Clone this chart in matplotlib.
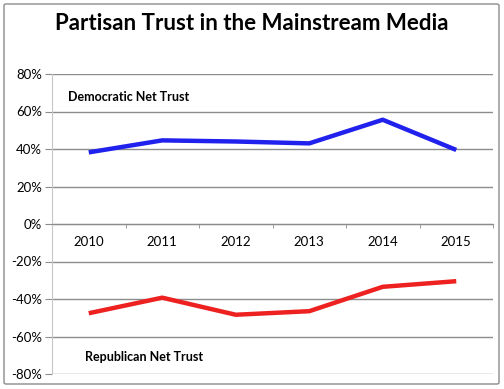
import matplotlib.pyplot as plt
from matplotlib.patches import FancyBboxPatch
from matplotlib.ticker import FuncFormatter

years = ["2010", "2011", "2012", "2013", "2014", "2015"]
dem_trust = [38.2, 44.6, 44.0, 43.0, 55.6, 39.5]
rep_trust = [-47.6, -39.3, -48.4, -46.5, -33.5, -30.5]

plt.rcParams['font.family'] = ['Lato', 'DejaVu Sans']

fig = plt.figure(figsize=(5.04, 3.89), dpi=100)
ax = fig.add_axes([52 / 504, 15 / 389, 441 / 504, 300 / 389])

x = list(range(len(years)))
ax.plot(x, dem_trust, color='#2121ee', lw=3.2, solid_capstyle='butt')
ax.plot(x, rep_trust, color='#ee2121', lw=3.2, solid_capstyle='butt')

ax.set_xlim(-0.5, len(years) - 0.5)
ax.set_ylim(-80, 80)
ax.set_yticks(range(-80, 81, 20))
ax.yaxis.set_major_formatter(FuncFormatter(lambda v, p: f"{int(v)}%"))
ax.grid(axis='y', color='#8c8c8c', lw=1)
ax.set_axisbelow(True)

# category axis sits on the zero line
ax.spines['bottom'].set_position(('data', 0))
ax.spines['bottom'].set_color('#8c8c8c')
ax.spines['left'].set_color('#c8c8c8')
ax.spines['top'].set_visible(False)
ax.spines['right'].set_visible(False)
ax.set_xticks(x)
ax.set_xticklabels(years)
ax.set_xticks([i + 0.5 for i in x], minor=True)
ax.tick_params(axis='x', which='major', length=0, pad=9, labelsize=9.5)
ax.tick_params(axis='x', which='minor', length=3, color='#8c8c8c')
ax.tick_params(axis='y', length=5, color='#8c8c8c', labelsize=9.5, pad=2)

ax.text(-0.28, 67.7, "Democratic Net Trust", fontsize=9, fontweight='bold', va='center')
ax.text(-0.05, -70.8, "Republican Net Trust", fontsize=9, fontweight='bold', va='center')

fig.text(0.5, 1 - 24 / 389, "Partisan Trust in the Mainstream Media",
         ha='center', va='center', fontsize=16, fontweight='bold')

border = FancyBboxPatch((4 / 504, 5 / 389), 495 / 504, 380 / 389,
                        boxstyle='round,pad=0,rounding_size=0.004',
                        transform=fig.transFigure, fill=False,
                        edgecolor='#8c8c8c', lw=1)
fig.patches.append(border)

fig.savefig("out.png", dpi=100)
